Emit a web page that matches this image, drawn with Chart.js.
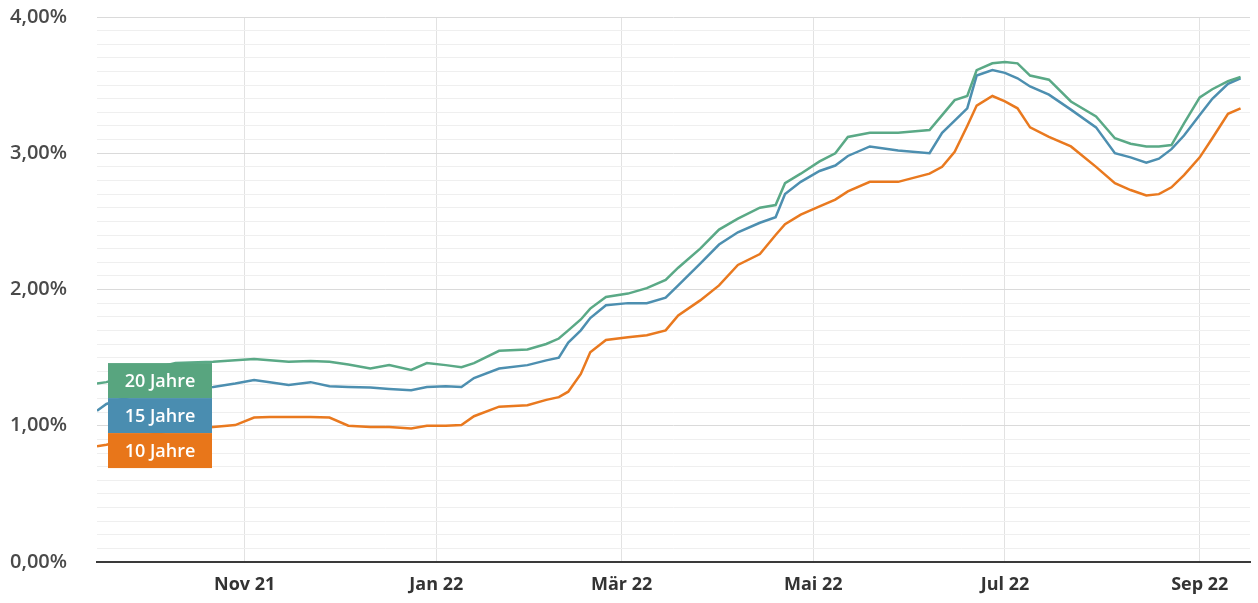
<!DOCTYPE html>
<html lang="de">
<head>
<meta charset="utf-8">
<title>Bauzinsen 10, 15 und 20 Jahre</title>
<script src="https://cdn.jsdelivr.net/npm/chart.js@4/dist/chart.umd.min.js"></script>
<style>
  html, body { margin: 0; padding: 0; background: #ffffff; }
  #wrap { width: 1258px; height: 603px; position: relative; }
</style>
</head>
<body>
<div id="wrap"><canvas id="zinsChart" width="1258" height="603"></canvas></div>
<script>
// --- Daten (Tage seit 15.09.2021, Zinssätze in %) ---
const tage = [0, 3, 14, 25, 37, 44, 50, 55, 61, 68, 74, 80, 87, 93, 100, 105, 111, 116, 120, 128,
  137, 143, 147, 150, 154, 157, 162, 169, 175, 181, 185, 192, 198, 204, 211, 216, 219, 224, 230, 235,
  239, 246, 255, 265, 269, 273, 277, 280, 285, 289, 293, 297, 303, 310, 318, 324, 329, 334, 338, 342,
  346, 351, 355, 360, 364];

const zins20 = [1.31, 1.32, 1.40, 1.46, 1.47, 1.48, 1.49, 1.48, 1.47, 1.475, 1.47, 1.45, 1.42, 1.445, 1.41, 1.46, 1.445, 1.43, 1.46, 1.55,
  1.56, 1.60, 1.64, 1.70, 1.78, 1.86, 1.945, 1.97, 2.01, 2.07, 2.16, 2.30, 2.44, 2.52, 2.60, 2.62, 2.78, 2.85, 2.94, 3.00,
  3.12, 3.15, 3.15, 3.17, 3.28, 3.39, 3.42, 3.61, 3.66, 3.67, 3.66, 3.57, 3.54, 3.38, 3.27, 3.11, 3.07, 3.05, 3.05, 3.06,
  3.22, 3.41, 3.47, 3.53, 3.56];

const zins15 = [1.11, 1.16, 1.24, 1.28, 1.285, 1.31, 1.335, 1.32, 1.30, 1.32, 1.29, 1.285, 1.28, 1.27, 1.26, 1.285, 1.29, 1.285, 1.35, 1.42,
  1.445, 1.48, 1.50, 1.61, 1.70, 1.79, 1.885, 1.90, 1.90, 1.94, 2.03, 2.19, 2.33, 2.42, 2.49, 2.53, 2.70, 2.79, 2.87, 2.91,
  2.98, 3.05, 3.02, 3.00, 3.15, 3.24, 3.33, 3.57, 3.61, 3.59, 3.55, 3.49, 3.43, 3.32, 3.19, 3.00, 2.97, 2.93, 2.96, 3.03,
  3.13, 3.28, 3.40, 3.51, 3.55];

const zins10 = [0.85, 0.86, 0.92, 0.97, 0.99, 1.005, 1.06, 1.065, 1.065, 1.065, 1.06, 1.00, 0.99, 0.99, 0.98, 1.00, 1.00, 1.005, 1.07, 1.14,
  1.15, 1.19, 1.21, 1.25, 1.38, 1.54, 1.63, 1.65, 1.665, 1.70, 1.81, 1.92, 2.03, 2.18, 2.26, 2.40, 2.48, 2.55, 2.61, 2.66,
  2.72, 2.79, 2.79, 2.85, 2.90, 3.01, 3.20, 3.35, 3.42, 3.38, 3.33, 3.19, 3.12, 3.05, 2.90, 2.78, 2.73, 2.69, 2.70, 2.75,
  2.84, 2.97, 3.11, 3.29, 3.33];

// Monatsanfänge als Tage seit 15.09.2021
const monatsTage = [47, 108, 167, 228, 289, 351];
const monatsLabels = ['Nov 21', 'Jan 22', 'Mär 22', 'Mai 22', 'Jul 22', 'Sep 22'];

const serienNamen = ['20 Jahre', '15 Jahre', '10 Jahre'];

// --- Farben ---
const FARBEN = {
  gruen: '#5aa986',
  blau: '#4d8fb0',
  orange: '#e9791f',
  boxGruen: '#58a57f',
  boxBlau: '#4a8db0',
  boxOrange: '#e8761a'
};

const punkte = (werte) => werte.map((v, i) => ({ x: tage[i], y: v }));

// Beschriftungskästen am linken Rand (wie im Original über den Linien)
const labelBoxen = {
  id: 'labelBoxen',
  afterDatasetsDraw(chart) {
    const { ctx, chartArea, scales } = chart;
    const farben = [FARBEN.boxGruen, FARBEN.boxBlau, FARBEN.boxOrange];
    const links = chartArea.left + 11;
    const breite = 104;
    const hoehe = 35;
    let oben = scales.y.getPixelForValue(1.46);
    ctx.save();
    ctx.font = '600 18px "Open Sans", sans-serif';
    ctx.textAlign = 'center';
    ctx.textBaseline = 'middle';
    serienNamen.forEach((name, i) => {
      ctx.fillStyle = farben[i];
      ctx.fillRect(links, oben, breite, hoehe);
      ctx.fillStyle = '#ffffff';
      ctx.fillText(name, links + breite / 2, oben + hoehe / 2 + 1);
      oben += hoehe;
    });
    ctx.restore();
  }
};

const istGanzzahl = (v) => Math.abs(v - Math.round(v)) < 1e-6;

new Chart(document.getElementById('zinsChart'), {
  type: 'line',
  data: {
    datasets: [
      { label: serienNamen[0], data: punkte(zins20), borderColor: FARBEN.gruen },
      { label: serienNamen[1], data: punkte(zins15), borderColor: FARBEN.blau },
      { label: serienNamen[2], data: punkte(zins10), borderColor: FARBEN.orange }
    ]
  },
  options: {
    responsive: false,
    animation: false,
    layout: { padding: { left: 10, right: 8, top: 17, bottom: 0 } },
    elements: {
      line: { borderWidth: 2.5, tension: 0, fill: false },
      point: { radius: 0 }
    },
    plugins: {
      legend: { display: false },
      tooltip: { enabled: false }
    },
    scales: {
      x: {
        type: 'linear',
        min: 0,
        max: 367,
        afterBuildTicks: (scale) => { scale.ticks = monatsTage.map(v => ({ value: v })); },
        afterFit: (scale) => { scale.height = 41; },
        ticks: {
          autoSkip: false,
          maxRotation: 0,
          padding: 12,
          color: '#333333',
          font: { family: '"Open Sans", sans-serif', size: 18, weight: '700' },
          callback: (value, index) => monatsLabels[index]
        },
        grid: { color: '#e2e2e2', lineWidth: 1, drawTicks: false },
        border: { display: true, color: '#3a3a3a', width: 2 }
      },
      y: {
        min: 0,
        max: 4,
        afterFit: (scale) => { scale.width = 87; },
        ticks: {
          stepSize: 0.1,
          autoSkip: false,
          crossAlign: 'far',
          padding: 0,
          color: '#4a4a4a',
          font: { family: '"Open Sans", sans-serif', size: 20, weight: '600' },
          callback: (value) => istGanzzahl(value) ? value.toFixed(2).replace('.', ',') + '%' : ''
        },
        grid: {
          drawTicks: false,
          lineWidth: 1,
          color: (ctx) => (ctx.tick && istGanzzahl(ctx.tick.value)) ? '#dadada' : '#efefef'
        },
        border: { display: false }
      }
    }
  },
  plugins: [labelBoxen]
});
</script>
</body>
</html>
